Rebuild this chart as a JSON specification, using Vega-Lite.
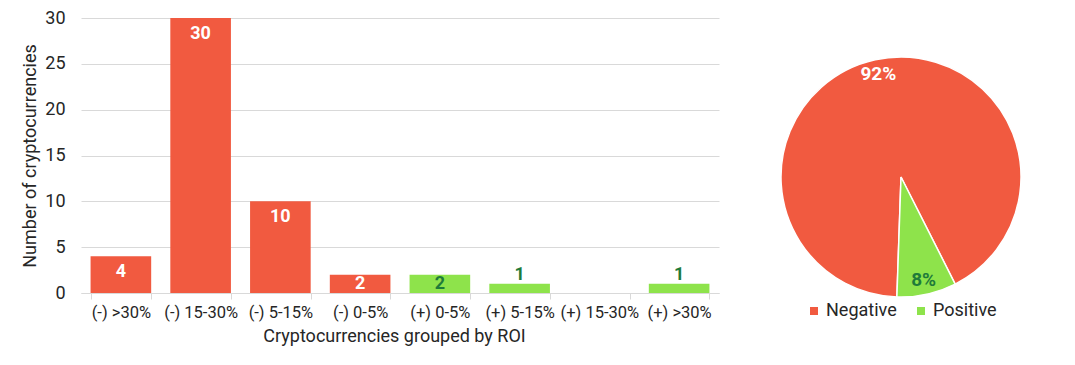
{
  "$schema": "https://vega.github.io/schema/vega-lite/v6.json",
  "padding": {"left": 21, "top": 9, "right": 5, "bottom": 5},
  "background": "white",
  "config": {"font": "Roboto", "view": {"stroke": null}},
  "bounds": "flush",
  "spacing": 62,
  "resolve": {"scale": {"color": "independent"}},
  "hconcat": [
    {
      "width": 638,
      "height": 275,
      "data": {"values": [
        {"roi": "(-) >30%", "count": 4, "sign": "Negative"},
        {"roi": "(-) 15-30%", "count": 30, "sign": "Negative"},
        {"roi": "(-) 5-15%", "count": 10, "sign": "Negative"},
        {"roi": "(-) 0-5%", "count": 2, "sign": "Negative"},
        {"roi": "(+) 0-5%", "count": 2, "sign": "Positive"},
        {"roi": "(+) 5-15%", "count": 1, "sign": "Positive"},
        {"roi": "(+) 15-30%", "count": 0, "sign": "Positive"},
        {"roi": "(+) >30%", "count": 1, "sign": "Positive"}
      ]},
      "encoding": {
        "x": {
          "field": "roi", "type": "nominal", "sort": null,
          "title": "Cryptocurrencies grouped by ROI",
          "scale": {"paddingInner": 0.24, "paddingOuter": 0.12},
          "axis": {
            "labelAngle": 0, "domainColor": "#d9d9d9", "tickColor": "#d9d9d9",
            "tickBand": "extent", "tickSize": 6, "labelFontSize": 16.5, "labelPadding": 5,
            "titleFontSize": 18, "titleFontWeight": "normal", "titlePadding": 7, "titleX": 313,
            "labelColor": "#262626", "titleColor": "#262626"
          }
        },
        "y": {
          "field": "count", "type": "quantitative",
          "title": "Number of cryptocurrencies",
          "scale": {"domain": [0, 30]},
          "axis": {
            "values": [0, 5, 10, 15, 20, 25, 30], "grid": true, "gridColor": "#d9d9d9",
            "domain": false, "ticks": false, "labelFontSize": 18, "labelPadding": 16,
            "titleFontSize": 18, "titleFontWeight": "normal", "titlePadding": 5,
            "labelColor": "#262626", "titleColor": "#262626"
          }
        },
        "order": {"field": "sign"}
      },
      "layer": [
        {
          "mark": {"type": "bar"},
          "encoding": {
            "color": {
              "field": "sign", "type": "nominal",
              "scale": {"domain": ["Negative", "Positive"], "range": ["#F15A40", "#8EE34B"]},
              "legend": null
            }
          }
        },
        {
          "transform": [{"filter": "datum.count >= 4"}],
          "mark": {"type": "text", "fontWeight": "bold", "fontSize": 18, "dy": 16, "color": "white"},
          "encoding": {"text": {"field": "count", "type": "quantitative"}}
        },
        {
          "transform": [{"filter": "datum.count == 2"}],
          "mark": {"type": "text", "fontWeight": "bold", "fontSize": 18, "dy": 9},
          "encoding": {
            "text": {"field": "count", "type": "quantitative"},
            "color": {"condition": {"test": "datum.sign == 'Negative'", "value": "white"}, "value": "#1E7B3A"}
          }
        },
        {
          "transform": [{"filter": "datum.count == 1"}],
          "mark": {"type": "text", "fontWeight": "bold", "fontSize": 18, "dy": -9, "color": "#1E7B3A"},
          "encoding": {"text": {"field": "count", "type": "quantitative"}}
        }
      ]
    },
    {
      "width": 240,
      "height": 318,
      "data": {"values": [
        {"sign": "Negative", "share": 0.92},
        {"sign": "Positive", "share": 0.08}
      ]},
      "encoding": {
        "theta": {"field": "share", "type": "quantitative", "stack": true, "scale": {"range": [3.176, 9.459]}},
        "order": {"field": "sign"}
      },
      "layer": [
        {
          "mark": {"type": "arc", "outerRadius": 120, "stroke": "white", "strokeWidth": 1.5},
          "encoding": {
            "color": {
              "field": "sign", "type": "nominal",
              "scale": {"domain": ["Negative", "Positive"], "range": ["#F15A40", "#8EE34B"]},
              "legend": {
                "orient": "none", "legendX": 24, "legendY": 284, "direction": "horizontal",
                "title": null, "symbolType": "square", "symbolSize": 64, "symbolStrokeWidth": 0,
                "labelFontSize": 18, "labelColor": "#262626", "columnPadding": 15, "labelOffset": 3,
                "padding": 0
              }
            }
          }
        },
        {
          "mark": {"type": "text", "radius": 105, "fontWeight": "bold", "fontSize": 19},
          "encoding": {
            "text": {"field": "share", "type": "quantitative", "format": ".0%"},
            "color": {"condition": {"test": "datum.sign == 'Negative'", "value": "white"}, "value": "#1E7B3A"}
          }
        }
      ]
    }
  ]
}
